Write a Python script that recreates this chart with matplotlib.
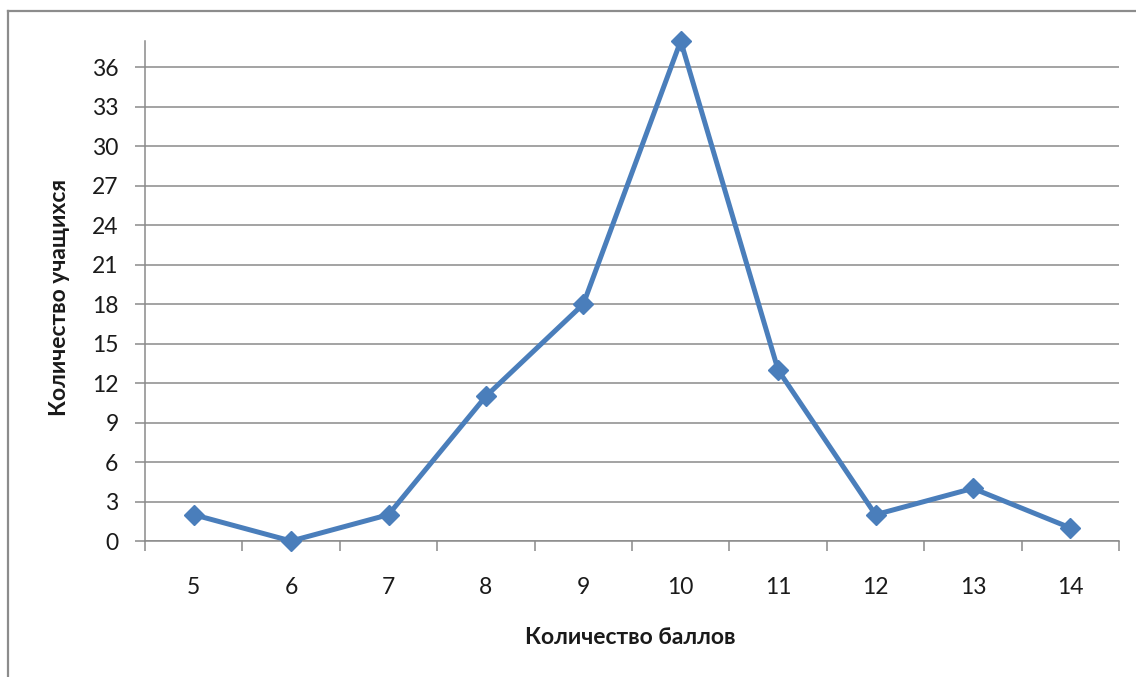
import matplotlib
matplotlib.use("Agg")
import matplotlib.pyplot as plt
from matplotlib.lines import Line2D

scores = [5, 6, 7, 8, 9, 10, 11, 12, 13, 14]
students = [2, 0, 2, 11, 18, 38, 13, 2, 4, 1]
y_ticks = [0, 3, 6, 9, 12, 15, 18, 21, 24, 27, 30, 33, 36]
x_label = "Количество баллов"
y_label = "Количество учащихся"

plt.rcParams['font.family'] = ['Lato', 'DejaVu Sans']

fig = plt.figure(figsize=(11.36, 6.77), dpi=100)
W, H = 1136, 677

# chart frame (left and top border visible)
fig.add_artist(Line2D([8/W, 8/W], [0, 1 - 11/H], color='#8c8c8c', lw=1.6,
                      transform=fig.transFigure))
fig.add_artist(Line2D([8/W, 1], [1 - 11/H, 1 - 11/H], color='#8c8c8c', lw=1.6,
                      transform=fig.transFigure))

ax = fig.add_axes([145/W, 1 - 541/H, (1119 - 145)/W, (541 - 41)/H])
ax.set_xlim(4.5, 14.5)
ax.set_ylim(0, 38)

grid_c = '#8a8a8a'
for v in y_ticks:
    ax.axhline(v, color=grid_c, lw=1.1, zorder=1)

ax.plot(scores, students, color='#4a7ebb', lw=3.6, marker='D', markersize=10,
        zorder=3, clip_on=False)

for s in ['top', 'right']:
    ax.spines[s].set_visible(False)
for s in ['left', 'bottom']:
    ax.spines[s].set_color(grid_c)
    ax.spines[s].set_linewidth(1.1)

fs = 16.5
ax.set_yticks(y_ticks)
ax.set_yticklabels([str(v) for v in y_ticks])
ax.tick_params(axis='y', direction='out', length=7, width=1.1, color=grid_c,
               pad=12, labelsize=fs, labelcolor='#1a1a1a')

ax.set_xticks(scores)
ax.set_xticklabels([str(v) for v in scores])
ax.set_xticks([x - 0.5 for x in scores] + [scores[-1] + 0.5], minor=True)
ax.tick_params(axis='x', which='major', length=0, pad=26, labelsize=fs,
               labelcolor='#1a1a1a')
ax.tick_params(axis='x', which='minor', direction='out', length=7, width=1.1,
               color=grid_c)

fig.text(630/W, 1 - 637/H, x_label, ha='center', va='center', fontsize=fs,
         fontweight='bold', color='#1a1a1a')
fig.text(60/W, 1 - 297/H, y_label, ha='center', va='center', fontsize=fs,
         fontweight='bold', rotation=90, color='#1a1a1a')

fig.savefig('out.png', dpi=100)
